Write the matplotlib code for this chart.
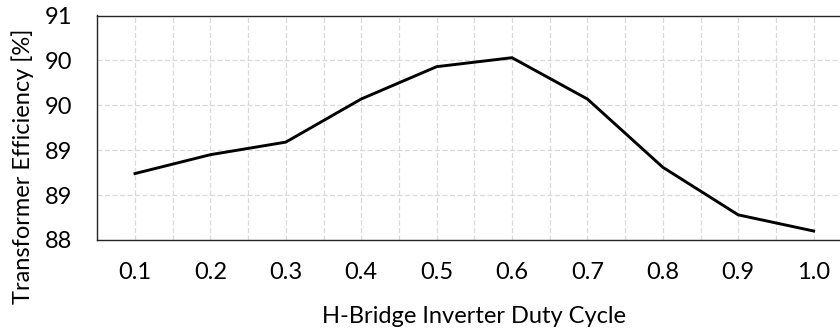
import matplotlib
matplotlib.use("Agg")
import matplotlib.pyplot as plt
from matplotlib.ticker import FixedLocator, FuncFormatter

duty_cycle = ["0.1", "0.2", "0.3", "0.4", "0.5", "0.6", "0.7", "0.8", "0.9", "1.0"]
efficiency = [88.74, 88.95, 89.09, 89.57, 89.93, 90.03, 89.57, 88.81, 88.28, 88.10]
y_ticks = [88.0, 88.5, 89.0, 89.5, 90.0, 90.5]

plt.rcParams["font.family"] = ["Lato", "DejaVu Sans"]
FS = 17

W, H = 840, 331
fig = plt.figure(figsize=(W / 100, H / 100), dpi=100)
ax = fig.add_axes([97.3 / W, 91 / H, 754 / W, 224.5 / H])

x = list(range(len(duty_cycle)))
ax.plot(x, efficiency, color="black", lw=2.1, solid_joinstyle="miter", zorder=3)

ax.set_xlim(-0.5, len(duty_cycle) - 0.5)
ax.set_ylim(88.0, 90.5)

ax.set_xticks(x)
ax.set_xticklabels(duty_cycle)
ax.xaxis.set_minor_locator(FixedLocator([i - 0.5 for i in range(len(duty_cycle) + 1)]))
ax.set_yticks(y_ticks)
# integer labels, rounding halves upward
ax.yaxis.set_major_formatter(FuncFormatter(lambda v, p: f"{int(v + 0.5)}"))

ax.grid(True, which="both", axis="x", color="#d9d9d9", ls=(0, (4, 2)), lw=0.9)
ax.grid(True, which="major", axis="y", color="#d9d9d9", ls=(0, (4, 2)), lw=0.9)
ax.set_axisbelow(True)

ax.tick_params(axis="both", which="both", length=0, labelsize=FS, colors="#000000")
ax.tick_params(axis="x", pad=16)
ax.tick_params(axis="y", pad=18)

for s in ["left", "top", "bottom"]:
    ax.spines[s].set_color("#262626")
    ax.spines[s].set_linewidth(1.0)
ax.spines["right"].set_visible(False)

fig.text(474 / W, 1 - 323 / H, "H-Bridge Inverter Duty Cycle", fontsize=FS,
         ha="center", va="baseline")
fig.text(23 / W, 1 - 166 / H, "Transformer Efficiency [%]", fontsize=FS,
         rotation=90, ha="center", va="center")

fig.savefig("out.png", dpi=100)
